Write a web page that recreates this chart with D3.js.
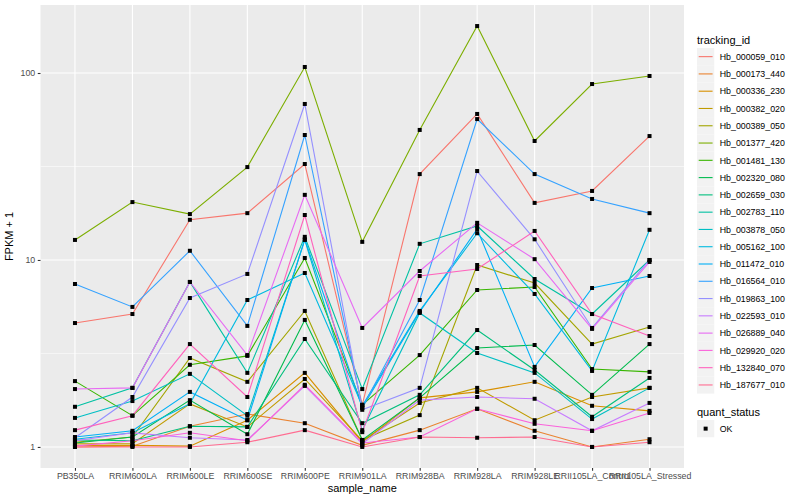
<!DOCTYPE html>
<html>
<head>
<meta charset="utf-8">
<script src="https://cdn.jsdelivr.net/npm/d3@7"></script>
<style>
body { margin: 0; background: #fff; }
svg { font-family: "Liberation Sans", Arial, sans-serif; }
</style>
</head>
<body>
<svg id="chart" width="800" height="500"></svg>
<script>
// samples on the x axis
var samples = ["PB350LA", "RRIM600LA", "RRIM600LE", "RRIM600SE", "RRIM600PE", "RRIM901LA",
  "RRIM928BA", "RRIM928LA", "RRIM928LE", "RRII105LA_Control", "RRII105LA_Stressed"];

var trackingIds = ["Hb_000059_010", "Hb_000173_440", "Hb_000336_230", "Hb_000382_020", "Hb_000389_050",
  "Hb_001377_420", "Hb_001481_130", "Hb_002320_080", "Hb_002659_030", "Hb_002783_110",
  "Hb_003878_050", "Hb_005162_100", "Hb_011472_010", "Hb_016564_010", "Hb_019863_100",
  "Hb_022593_010", "Hb_026889_040", "Hb_029920_020", "Hb_132840_070", "Hb_187677_010"];

// FPKM + 1, one row per tracking id, one value per sample
var fpkm = [
  [4.60, 5.14, 16.4, 17.8, 32.6, 1.68, 28.8, 60.4, 20.2, 23.4, 46.0],
  [1.00, 1.01, 1.29, 1.50, 1.34, 1.02, 1.23, 1.60, 1.22, 1.00, 1.10],
  [1.02, 1.02, 1.01, 1.39, 2.49, 1.06, 1.83, 1.97, 2.23, 1.66, 1.56],
  [1.04, 1.04, 1.70, 1.28, 2.31, 1.08, 1.72, 2.07, 1.39, 1.85, 2.07],
  [1.06, 1.13, 2.99, 2.23, 5.34, 1.09, 1.48, 9.40, 7.53, 3.55, 4.38],
  [12.8, 20.4, 17.6, 31.4, 107.7, 12.5, 49.6, 178.3, 43.3, 87.3, 96.4],
  [2.25, 1.47, 2.75, 3.07, 10.25, 1.68, 3.10, 6.91, 7.17, 2.61, 2.52],
  [1.05, 1.13, 1.78, 1.17, 4.78, 1.09, 1.83, 3.38, 3.51, 1.90, 3.55],
  [1.09, 1.08, 1.29, 1.28, 3.78, 1.34, 1.90, 4.22, 2.58, 1.45, 2.34],
  [1.64, 2.07, 7.63, 2.49, 13.3, 2.04, 12.2, 15.2, 7.91, 5.14, 10.0],
  [1.43, 1.76, 2.46, 1.47, 12.8, 1.23, 5.21, 3.18, 2.49, 1.41, 2.07],
  [1.10, 1.19, 1.70, 6.11, 8.52, 1.66, 5.34, 13.9, 6.58, 2.55, 14.5],
  [1.13, 1.22, 1.97, 1.39, 12.9, 1.62, 5.27, 14.6, 2.68, 7.08, 8.21],
  [7.44, 5.61, 11.2, 4.44, 46.6, 1.62, 6.11, 56.7, 28.8, 21.2, 17.8],
  [1.12, 1.85, 6.26, 8.42, 68.3, 1.58, 2.07, 29.9, 12.9, 4.33, 10.0],
  [1.08, 1.19, 1.12, 1.09, 2.12, 1.04, 1.78, 1.85, 1.81, 1.22, 1.72],
  [2.04, 2.07, 7.63, 3.10, 22.3, 4.33, 8.73, 15.8, 10.1, 4.28, 9.76],
  [1.01, 1.08, 1.19, 1.08, 2.15, 1.05, 1.13, 1.60, 1.33, 1.22, 1.52],
  [1.23, 1.47, 3.55, 1.85, 17.4, 1.20, 8.21, 8.95, 14.3, 5.14, 3.92],
  [1.00, 1.00, 1.00, 1.06, 1.23, 1.00, 1.13, 1.12, 1.13, 1.00, 1.06]
];

var yTicks = [1, 10, 100];
var yMinorTicks = [Math.sqrt(10), Math.sqrt(1000)];
var statusLevels = ["OK"];

// ggplot default hue palette for 20 levels
var palette = ["#F8766D", "#EA8331", "#D89000", "#C09B00", "#A3A500", "#7CAE00", "#39B600", "#00BB4E",
  "#00BF7D", "#00C1A3", "#00BFC4", "#00BAE0", "#00B0F6", "#35A2FF", "#9590FF", "#C77CFF",
  "#E76BF3", "#FA62DB", "#FF62BC", "#FF6C91"];

const svg = d3.select('#chart');
const panel = {left: 40.5, right: 684, top: 5, bottom: 468};

// log range with 5% expansion like ggplot
var logs = fpkm.flat().map(function (v) { return Math.log10(v); });
var lo = d3.min(logs), hi = d3.max(logs), pad = (hi - lo) * 0.05;

const xScale = d3.scalePoint()
    .domain(samples)
    .range([panel.left, panel.right])
    .padding(0.6);

const yScale = d3.scaleLog()
    .domain([Math.pow(10, lo - pad), Math.pow(10, hi + pad)])
    .range([panel.bottom, panel.top]);

const color = d3.scaleOrdinal().domain(trackingIds).range(palette);

svg.append('rect')
    .attr('x', panel.left)
    .attr('y', panel.top)
    .attr('width', panel.right - panel.left)
    .attr('height', panel.bottom - panel.top)
    .attr('fill', '#EBEBEB');

// grid
const grid = svg.append('g');
grid.selectAll('line.minor')
    .data(yMinorTicks)
    .enter()
    .append('line')
    .attr('x1', panel.left).attr('x2', panel.right)
    .attr('y1', (d) => yScale(d)).attr('y2', (d) => yScale(d))
    .attr('stroke', '#fff').attr('stroke-width', 0.55);

grid.selectAll('line.major')
    .data(yTicks)
    .enter()
    .append('line')
    .attr('x1', panel.left).attr('x2', panel.right)
    .attr('y1', (d) => yScale(d)).attr('y2', (d) => yScale(d))
    .attr('stroke', '#fff').attr('stroke-width', 1.1);

grid.selectAll('line.vert')
    .data(samples)
    .enter()
    .append('line')
    .attr('x1', (d) => xScale(d)).attr('x2', (d) => xScale(d))
    .attr('y1', panel.top).attr('y2', panel.bottom)
    .attr('stroke', '#fff').attr('stroke-width', 1.1);

// lines
const line = d3.line()
    .x((d, i) => xScale(samples[i]))
    .y((d) => yScale(d));

svg.append('g')
    .selectAll('path')
    .data(fpkm)
    .enter()
    .append('path')
    .attr('d', line)
    .attr('fill', 'none')
    .attr('stroke', (d, i) => color(trackingIds[i]))
    .attr('stroke-width', 1.1);

// points (quant_status OK)
var pts = [];
fpkm.forEach(function (row) {
  row.forEach(function (v, j) { pts.push({sample: samples[j], value: v}); });
});

svg.append('g')
    .selectAll('rect')
    .data(pts)
    .enter()
    .append('rect')
    .attr('x', (d) => xScale(d.sample) - 2)
    .attr('y', (d) => yScale(d.value) - 2)
    .attr('width', 4)
    .attr('height', 4)
    .attr('fill', '#000');

// axes
const yAxis = svg.append('g')
    .attr('transform', `translate(${panel.left}, 0)`)
    .call(d3.axisLeft(yScale).tickValues(yTicks).tickFormat(d3.format('d')).tickSize(2.75).tickPadding(2.5));

const xAxis = svg.append('g')
    .attr('transform', `translate(0, ${panel.bottom})`)
    .call(d3.axisBottom(xScale).tickSize(2.75).tickPadding(2.5));

[xAxis, yAxis].forEach(function (ax) {
  ax.select('.domain').remove();
  ax.selectAll('.tick line').attr('stroke', '#333333').attr('stroke-width', 1.1);
  ax.selectAll('.tick text')
      .attr('fill', '#4D4D4D')
      .style('font-size', '8.8px')
      .style('font-family', '"Liberation Sans", Arial, sans-serif');
});

svg.append('text')
    .attr('x', (panel.left + panel.right) / 2)
    .attr('y', 492)
    .attr('text-anchor', 'middle')
    .style('font-size', '11px')
    .text('sample_name');

svg.append('text')
    .attr('transform', `translate(13, ${(panel.top + panel.bottom) / 2}) rotate(-90)`)
    .attr('text-anchor', 'middle')
    .style('font-size', '11px')
    .text('FPKM + 1');

// legend
const legend = svg.append('g').attr('transform', 'translate(697, 0)');
const keySize = 17.28;

legend.append('text')
    .attr('x', 0)
    .attr('y', 44)
    .style('font-size', '11px')
    .text('tracking_id');

const keys = legend.selectAll('g.key')
    .data(trackingIds)
    .enter()
    .append('g')
    .attr('transform', (d, i) => `translate(0, ${48 + i * keySize})`);

keys.append('rect')
    .attr('width', keySize).attr('height', keySize)
    .attr('fill', '#F2F2F2');

keys.append('line')
    .attr('x1', 1.7).attr('x2', keySize - 1.7)
    .attr('y1', keySize / 2).attr('y2', keySize / 2)
    .attr('stroke', (d) => color(d))
    .attr('stroke-width', 1.1);

keys.append('text')
    .attr('x', keySize + 5.5)
    .attr('y', keySize / 2 + 3.2)
    .style('font-size', '8.8px')
    .text((d) => d);

legend.append('text')
    .attr('x', 0)
    .attr('y', 416)
    .style('font-size', '11px')
    .text('quant_status');

const skeys = legend.selectAll('g.skey')
    .data(statusLevels)
    .enter()
    .append('g')
    .attr('transform', (d, i) => `translate(0, ${420 + i * keySize})`);

skeys.append('rect')
    .attr('width', keySize).attr('height', keySize)
    .attr('fill', '#F2F2F2');

skeys.append('rect')
    .attr('x', keySize / 2 - 2).attr('y', keySize / 2 - 2)
    .attr('width', 4).attr('height', 4)
    .attr('fill', '#000');

skeys.append('text')
    .attr('x', keySize + 5.5)
    .attr('y', keySize / 2 + 3.2)
    .style('font-size', '8.8px')
    .text((d) => d);
</script>
</body>
</html>
